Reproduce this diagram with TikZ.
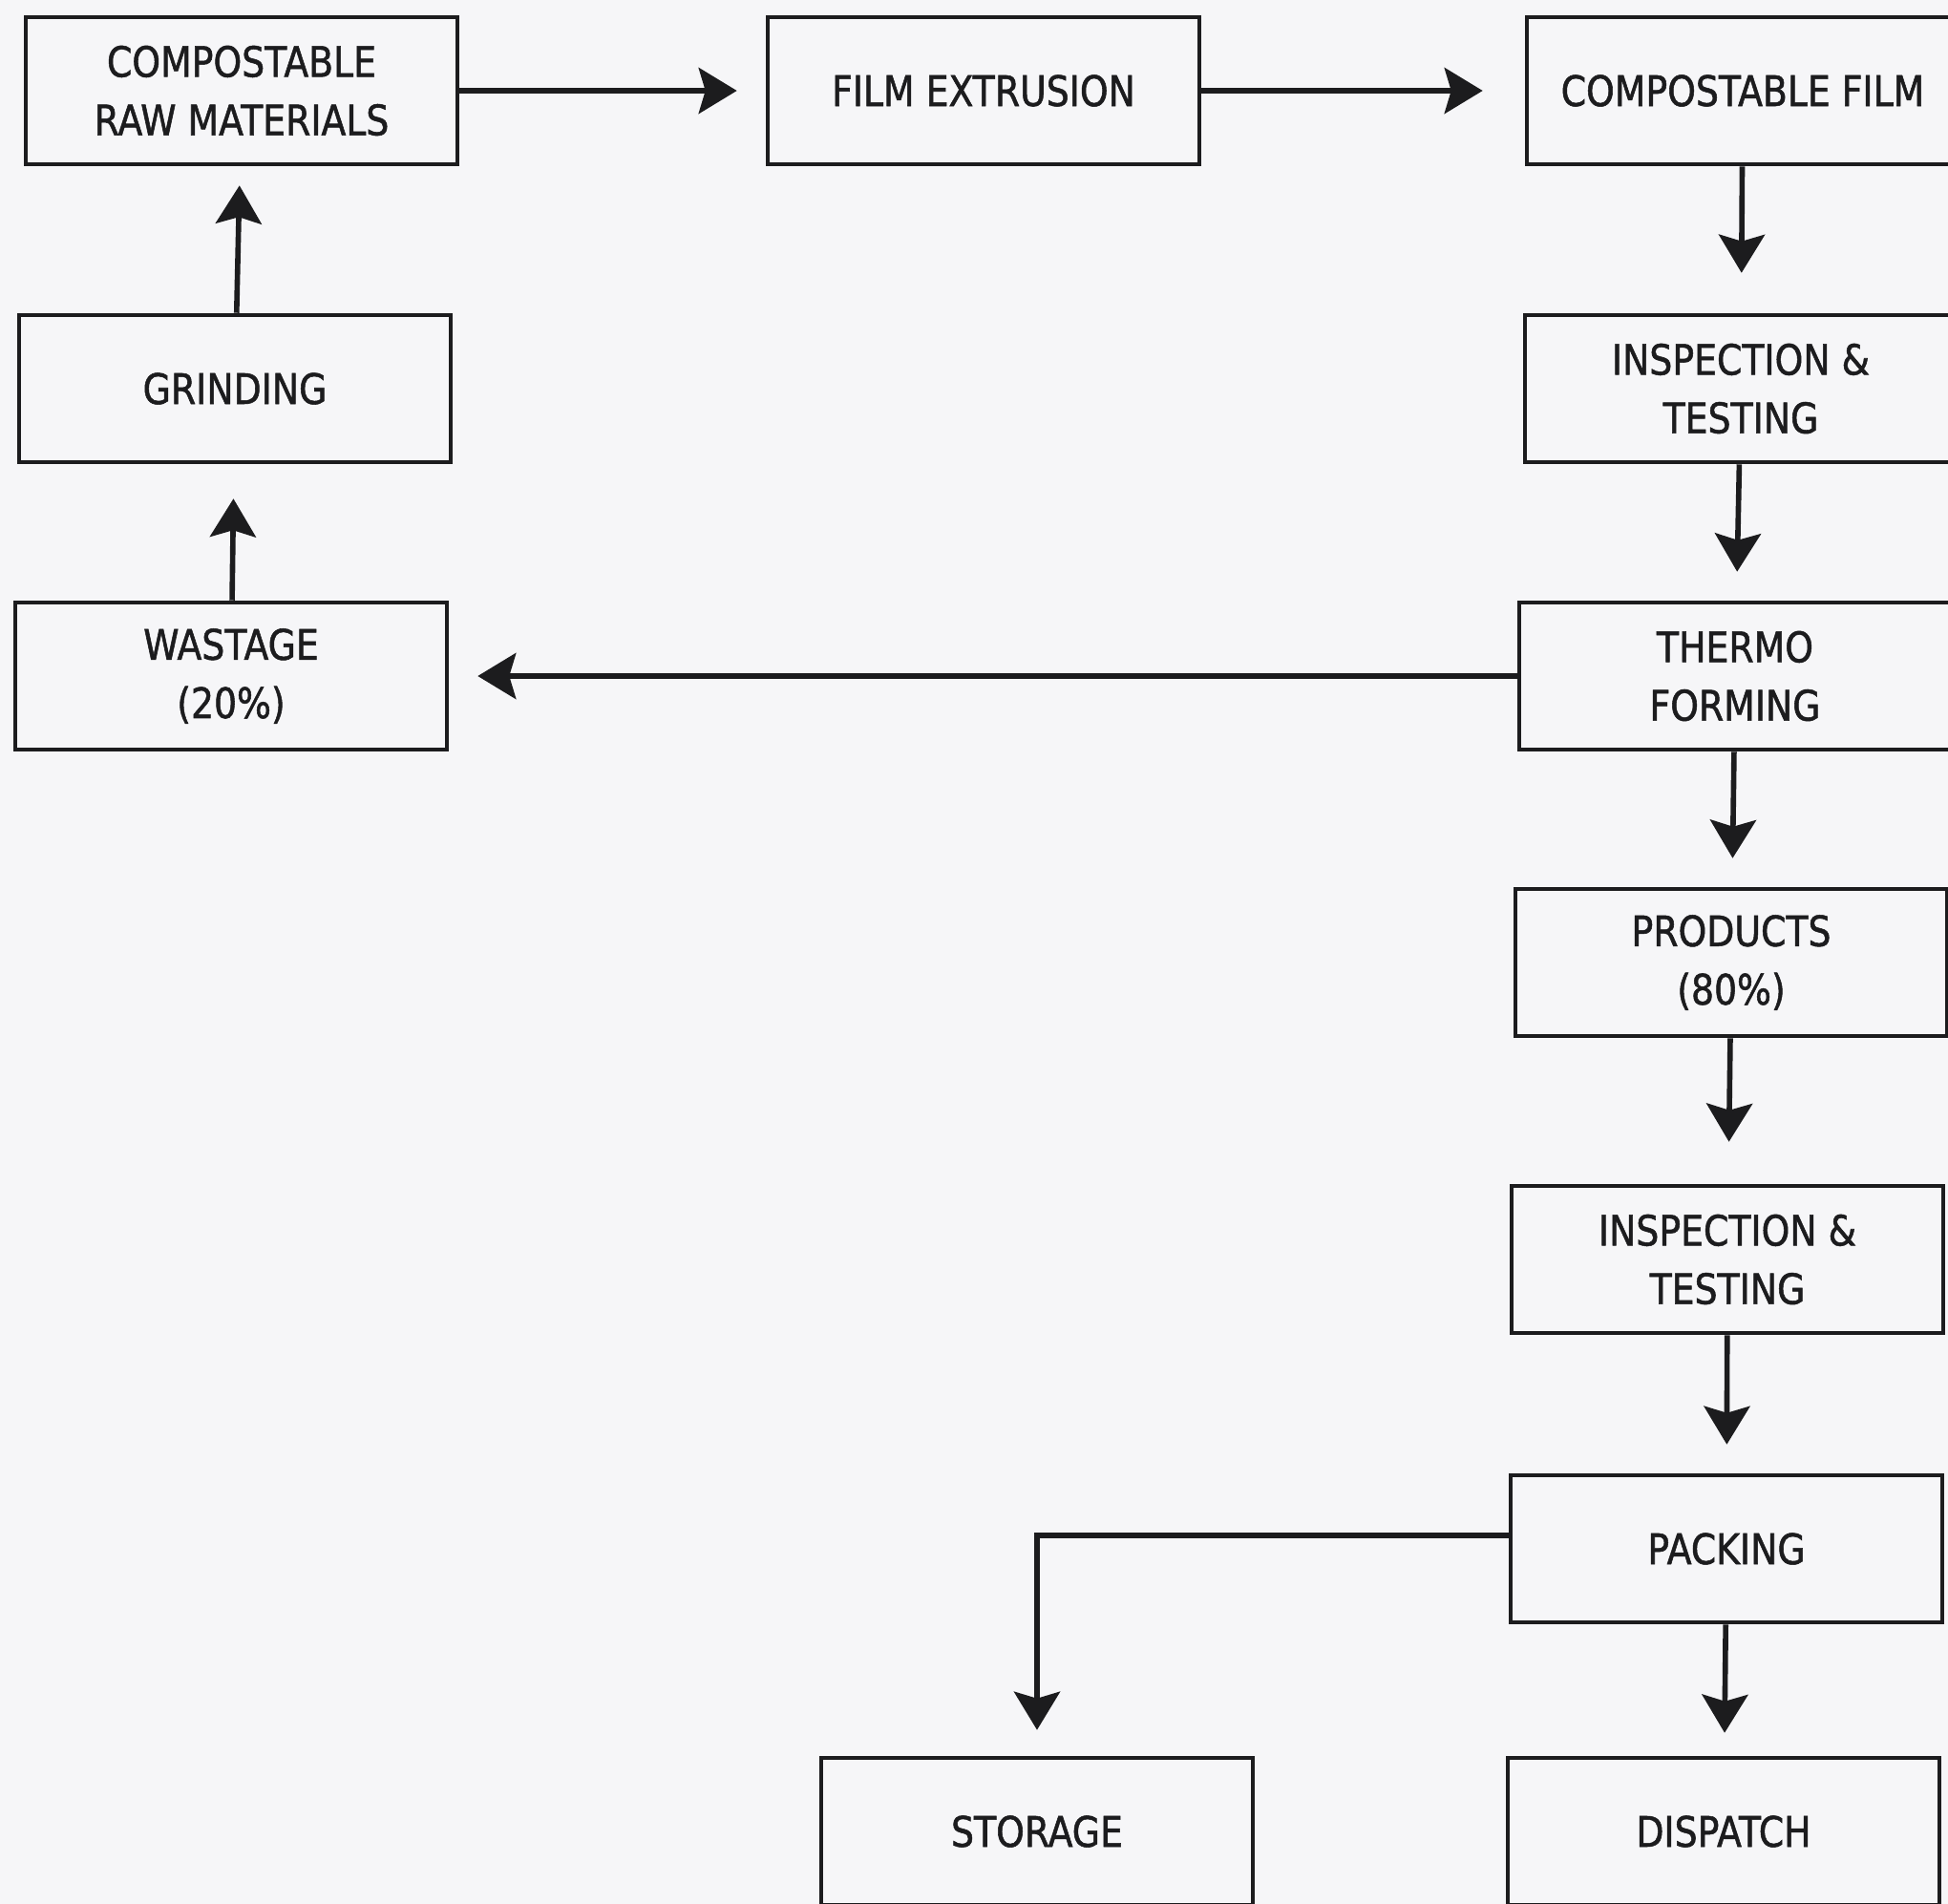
\documentclass[tikz,border=0pt]{standalone}
\usepackage{fontspec}
\setmainfont{DejaVu Sans}[FakeStretch=0.86,FakeBold=1.2]
\usepackage{tikz}
\usetikzlibrary{arrows.meta,positioning,calc}
\definecolor{paper}{RGB}{246,246,248}
\definecolor{ink}{RGB}{28,28,30}

\begin{document}
\begin{tikzpicture}[->,>={Stealth[length=4mm,width=4.8mm,inset=0.7mm]},shorten >=3mm,
   line width=1.6pt, draw=ink,
   stepbox/.style={draw=ink, rectangle, line width=1.3pt, minimum width=4.52cm,
     minimum height=1.54cm, inner sep=0pt, align=center, text=ink,
     font=\fontsize{12.5}{17.4}\selectfont}]
  \useasboundingbox[fill=paper] (0,0) rectangle (20.40,-19.94);
  % top row
  \node[stepbox] (raw) at (2.53, -0.95) {COMPOSTABLE\\RAW MATERIALS};
  \node[stepbox] (ext) at (10.30, -0.95) {FILM EXTRUSION};
  \node[stepbox] (film) at (18.25, -0.95) {COMPOSTABLE FILM};
  % recycling column
  \node[stepbox] (grind) at (2.46, -4.07) {GRINDING};
  \node[stepbox] (waste) at (2.42, -7.08) {WASTAGE\\(20\%)};
  % main column
  \node[stepbox] (insp1) at (18.23, -4.07) {INSPECTION \&\\TESTING};
  \node[stepbox] (thermo) at (18.17, -7.08) {THERMO\\FORMING};
  \node[stepbox] (prod) at (18.13, -10.08) {PRODUCTS\\(80\%)};
  \node[stepbox] (insp2) at (18.09, -13.19) {INSPECTION \&\\TESTING};
  \node[stepbox] (pack) at (18.08, -16.22) {PACKING};
  \node[stepbox] (store) at (10.86, -19.18) {STORAGE};
  \node[stepbox] (disp) at (18.05, -19.18) {DISPATCH};
  \path (raw) edge (ext);
  \path (ext) edge[shorten >=4.4mm] (film);
  \path (film) edge[shorten >=4.2mm] (insp1);
  \path (insp1) edge (thermo);
  \path (thermo) edge (prod);
  \path (prod) edge[shorten >=4.4mm] (insp2);
  \path (insp2) edge (pack);
  \path (pack) edge[shorten >=2.4mm] (disp);
  \path (thermo) edge (waste);
  \path (waste) edge[shorten >=3.6mm] (grind);
  \path (grind) edge[shorten >=2mm] (raw);
  \draw[shorten >=2.7mm] ([yshift=1.4mm]pack.west) -| (store.north);
\end{tikzpicture}
\end{document}
